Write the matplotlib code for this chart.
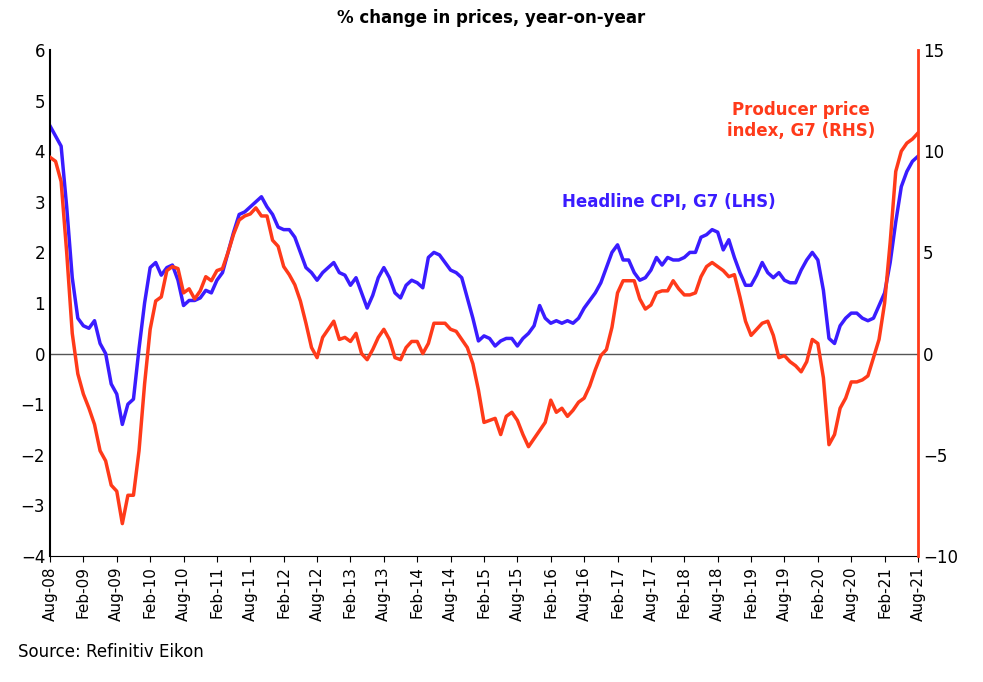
import numpy as np
import pandas as pd
from matplotlib import pyplot as plt

# monthly, Aug-08 .. Aug-21
cpi = [4.5, 4.3, 4.1, 2.9, 1.5,
       0.7, 0.55, 0.5, 0.65, 0.2, 0.0, -0.6, -0.8, -1.4, -1.0, -0.9, 0.1,
       1.0, 1.7, 1.8, 1.55, 1.7, 1.75, 1.45, 0.95, 1.05, 1.05, 1.1, 1.25,
       1.2, 1.45, 1.6, 2.0, 2.4, 2.75, 2.8, 2.9, 3.0, 3.1, 2.9, 2.75,
       2.5, 2.45, 2.45, 2.3, 2.0, 1.7, 1.6, 1.45, 1.6, 1.7, 1.8, 1.6,
       1.55, 1.35, 1.5, 1.2, 0.9, 1.15, 1.5, 1.7, 1.5, 1.2, 1.1, 1.35,
       1.45, 1.4, 1.3, 1.9, 2.0, 1.95, 1.8, 1.65, 1.6, 1.5, 1.1, 0.7,
       0.25, 0.35, 0.3, 0.15, 0.25, 0.3, 0.3, 0.15, 0.3, 0.4, 0.55, 0.95,
       0.7, 0.6, 0.65, 0.6, 0.65, 0.6, 0.7, 0.9, 1.05, 1.2, 1.4, 1.7,
       2.0, 2.15, 1.85, 1.85, 1.6, 1.45, 1.5, 1.65, 1.9, 1.75, 1.9, 1.85,
       1.85, 1.9, 2.0, 2.0, 2.3, 2.35, 2.45, 2.4, 2.05, 2.25, 1.9, 1.6,
       1.35, 1.35, 1.55, 1.8, 1.6, 1.5, 1.6, 1.45, 1.4, 1.4, 1.65, 1.85,
       2.0, 1.85, 1.25, 0.3, 0.2, 0.55, 0.7, 0.8, 0.8, 0.7, 0.65, 0.7,
       0.95, 1.2, 1.8, 2.6, 3.3, 3.6, 3.8, 3.9]

ppi = [9.7, 9.5, 8.5, 5.0, 1.0,
       -1.0, -2.0, -2.7, -3.5, -4.8, -5.3, -6.5, -6.8, -8.4, -7.0, -7.0, -4.8,
       -1.5, 1.2, 2.6, 2.8, 4.1, 4.3, 4.2, 3.0, 3.2, 2.7, 3.1, 3.8,
       3.6, 4.1, 4.2, 5.0, 5.9, 6.6, 6.8, 6.9, 7.2, 6.8, 6.8, 5.6,
       5.3, 4.3, 3.9, 3.4, 2.6, 1.5, 0.3, -0.2, 0.8, 1.2, 1.6, 0.7,
       0.8, 0.6, 1.0, 0.0, -0.3, 0.2, 0.8, 1.2, 0.7, -0.2, -0.3, 0.3,
       0.6, 0.6, 0.0, 0.5, 1.5, 1.5, 1.5, 1.2, 1.1, 0.7, 0.3, -0.5,
       -1.8, -3.4, -3.3, -3.2, -4.0, -3.1, -2.9, -3.3, -4.0, -4.6, -4.2, -3.8,
       -3.4, -2.3, -2.9, -2.7, -3.1, -2.8, -2.4, -2.2, -1.6, -0.8, -0.1, 0.2,
       1.3, 3.0, 3.6, 3.6, 3.6, 2.7, 2.2, 2.4, 3.0, 3.1, 3.1, 3.6,
       3.2, 2.9, 2.9, 3.0, 3.8, 4.3, 4.5, 4.3, 4.1, 3.8, 3.9, 2.8,
       1.6, 0.9, 1.2, 1.5, 1.6, 0.9, -0.2, -0.1, -0.4, -0.6, -0.9, -0.4,
       0.7, 0.5, -1.2, -4.5, -4.0, -2.7, -2.2, -1.4, -1.4, -1.3, -1.1, -0.2,
       0.7, 2.5, 5.5, 9.0, 10.0, 10.4, 10.6, 10.9]

dates = pd.date_range('2008-08-01', periods=len(cpi), freq='MS')
tick_labels = [d.strftime('%b-%y') for d in dates[::6]]

blue = '#3a1cff'
red = '#ff3a1a'

fig = plt.figure(figsize=(9.83, 6.82), dpi=100)
ax = fig.add_axes([50/983, 1-556/682, 868/983, 506/682])
ax2 = ax.twinx()

x = np.arange(len(cpi))
ax.axhline(0, color='#555555', lw=1)
ax.plot(x, cpi, color=blue, lw=2.5)
ax2.plot(x, ppi, color=red, lw=2.5)

ax.set_xlim(0, len(cpi) - 1)
ax.set_ylim(-4, 6)
ax2.set_ylim(-10, 15)
ax.set_yticks(range(-4, 7))
ax2.set_yticks(range(-10, 16, 5))
ax.set_xticks(x[::6])
ax.set_xticklabels(tick_labels, rotation=90, fontsize=11)
ax.tick_params(axis='y', labelsize=12, length=0)
ax2.tick_params(axis='y', labelsize=12, length=0)
ax.tick_params(axis='x', length=4)

for a in (ax, ax2):
    a.spines['top'].set_visible(False)
ax.spines['right'].set_visible(False)
ax2.spines['left'].set_visible(False)
ax2.spines['bottom'].set_visible(False)
ax2.spines['right'].set_color(red)
ax2.spines['right'].set_linewidth(2)
ax.spines['left'].set_linewidth(1.5)

ax.text(0.59, 0.69, 'Headline CPI, G7 (LHS)', transform=ax.transAxes,
        color=blue, fontsize=12, fontweight='bold')
ax.text(0.865, 0.83, 'Producer price\nindex, G7 (RHS)', transform=ax.transAxes,
        color=red, fontsize=12, fontweight='bold', ha='center')

fig.text(0.5, 1-18/682, '% change in prices, year-on-year', ha='center',
         va='center', fontsize=12, fontweight='bold')
fig.text(18/983, 1-652/682, 'Source: Refinitiv Eikon', fontsize=12, va='center')

fig.savefig('out.png', dpi=100)
